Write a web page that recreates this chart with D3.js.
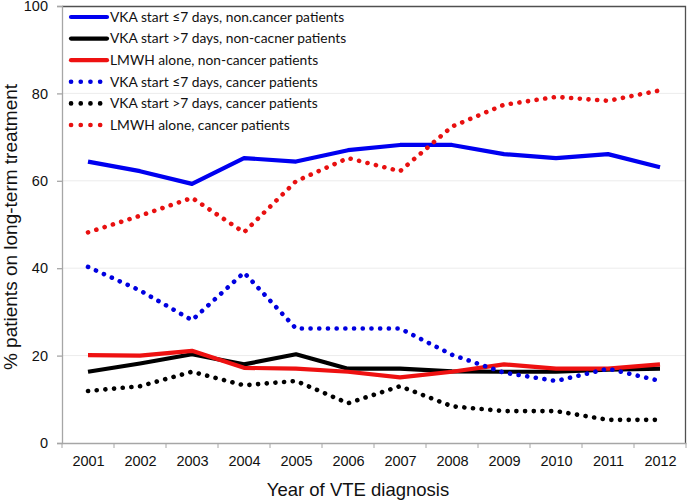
<!DOCTYPE html>
<html>
<head>
<meta charset="utf-8">
<script src="https://cdn.jsdelivr.net/npm/d3@7"></script>
<style>
  body { margin: 0; background: #fff; }
  svg { display: block; }
</style>
</head>
<body>
<div id="chart"></div>
<script>
// data
years = ['2001','2002','2003','2004','2005','2006','2007','2008','2009','2010','2011','2012']

vkaEarlyNonCancer = [64.4, 62.2, 59.3, 65.2, 64.4, 67, 68.2, 68.2, 66.1, 65.2, 66.1, 63.1]
vkaLateNonCancer  = [16.3, 18.2, 20.3, 18, 20.3, 17, 17, 16.4, 16.3, 16.3, 16.8, 17]
lmwhNonCancer     = [20.1, 20, 21.1, 17.2, 17, 16.3, 15, 16.3, 18, 17, 17, 18]
vkaEarlyCancer    = [40.3, 34.9, 28.1, 39, 26.2, 26.2, 26.2, 20.2, 16.1, 14.2, 17, 14.2]
vkaLateCancer     = [11.9, 13, 16.3, 13.2, 14.2, 9.1, 13, 8.4, 7.3, 7.3, 5.3, 5.3]
lmwhCancer        = [48.2, 52, 56.1, 48.2, 59.9, 65.2, 62.2, 72.4, 77.4, 79.2, 78.3, 80.7]

seriesNames = [
  'VKA start \u22647 days, non.cancer patients',
  'VKA start >7 days, non-cacner patients',
  'LMWH alone, non-cancer patients',
  'VKA start \u22647 days, cancer patients',
  'VKA start >7 days, cancer patients',
  'LMWH alone, cancer patients'
]
yTicks = [0, 20, 40, 60, 80, 100]

seriesList = [
  {name: seriesNames[0], values: vkaEarlyNonCancer, color: '#0000f0', dotted: false},
  {name: seriesNames[1], values: vkaLateNonCancer,  color: '#000000', dotted: false},
  {name: seriesNames[2], values: lmwhNonCancer,     color: '#ee1111', dotted: false},
  {name: seriesNames[3], values: vkaEarlyCancer,    color: '#0000e0', dotted: true},
  {name: seriesNames[4], values: vkaLateCancer,     color: '#000000', dotted: true},
  {name: seriesNames[5], values: lmwhCancer,        color: '#e81010', dotted: true}
]

svgWidth = 688
svgHeight = 501

margin = {top: 6, left: 62, right: 2, bottom: 58}
width = svgWidth - margin.left - margin.right
height = svgHeight - margin.top - margin.bottom

svg = d3.select('#chart')
        .append('svg')
        .attr('width', svgWidth)
        .attr('height', svgHeight)

chartGroup = svg.append('g')
                .attr('transform', `translate(${margin.left},${margin.top})`)

xScale = d3.scalePoint()
           .domain(years)
           .range([0, width])
           .padding(0.5)
yScale = d3.scaleLinear()
           .domain([0, 100])
           .range([height, 0])

// gridlines
chartGroup.selectAll('.grid')
          .data(yTicks.filter(d => d > 0 && d < 100))
          .enter()
          .append('line')
          .attr('x1', 0)
          .attr('x2', width)
          .attr('y1', d => yScale(d))
          .attr('y2', d => yScale(d))
          .attr('stroke', '#ececec')
          .attr('stroke-width', 1)

// top and right frame
chartGroup.append('path')
          .attr('d', `M0,0.5H${width - 0.5}V${height}`)
          .attr('fill', 'none')
          .attr('stroke', '#505050')
          .attr('stroke-width', 1.3)

leftAxis = d3.axisLeft(yScale)
             .tickValues(yTicks)
             .tickSize(5)
             .tickPadding(9)
chartGroup.append('g')
          .attr('class', 'y-axis')
          .call(leftAxis)

// category axis: ticks between the categories
step = xScale.step()
bottomAxis = d3.axisBottom(xScale)
               .tickSize(0)
               .tickPadding(13)
chartGroup.append('g')
          .attr('class', 'x-axis')
          .attr('transform', `translate(0,${height})`)
          .call(bottomAxis)
chartGroup.select('.x-axis').selectAll('.sep')
          .data(d3.range(years.length + 1))
          .enter()
          .append('line')
          .attr('x1', i => i * step)
          .attr('x2', i => i * step)
          .attr('y1', 0)
          .attr('y2', 5)
          .attr('stroke', '#a6a6a6')

svg.selectAll('.domain, .tick line').attr('stroke', '#a6a6a6').attr('stroke-width', 1.3)
svg.selectAll('.tick text')
   .attr('font-family', 'Liberation Sans, Arial, sans-serif')
   .attr('font-size', '14.5px')
   .attr('fill', '#111')

line = d3.line()
         .x((d, i) => xScale(years[i]))
         .y(d => yScale(d))

seriesList.forEach(function(s) {
  chartGroup.append('path')
            .datum(s.values)
            .attr('d', line)
            .attr('fill', 'none')
            .attr('stroke', s.color)
            .attr('stroke-width', s.dotted ? 4.6 : 4.2)
            .attr('stroke-linecap', s.dotted ? 'round' : 'butt')
            .attr('stroke-linejoin', 'round')
            .attr('stroke-dasharray', s.dotted ? '0.1 8.6' : null)
})

// legend
legend = chartGroup.append('g')
                   .attr('transform', 'translate(9,11)')
seriesList.forEach(function(s, i) {
  row = legend.append('g').attr('transform', `translate(0,${i * 21.6})`)
  row.append('line')
     .attr('x1', 0)
     .attr('x2', s.dotted ? 30 : 36)
     .attr('y1', 0)
     .attr('y2', 0)
     .attr('stroke', s.color)
     .attr('stroke-width', s.dotted ? 4.6 : 4.2)
     .attr('stroke-linecap', 'round')
     .attr('stroke-dasharray', s.dotted ? '0.1 9.6' : null)
  row.append('text')
     .attr('x', 39)
     .attr('y', 4.8)
     .attr('font-family', 'Lato, sans-serif')
     .attr('font-size', '13.8px')
     .attr('fill', '#111')
     .text(s.name)
})

svg.append('text')
   .attr('x', 358)
   .attr('y', 496)
   .attr('text-anchor', 'middle')
   .attr('font-family', 'Liberation Sans, Arial, sans-serif')
   .attr('font-size', '18.5px')
   .attr('fill', '#111')
   .text('Year of VTE diagnosis')

svg.append('text')
   .attr('transform', 'rotate(-90)')
   .attr('x', -227)
   .attr('y', 17)
   .attr('text-anchor', 'middle')
   .attr('font-family', 'Liberation Sans, Arial, sans-serif')
   .attr('font-size', '19px')
   .attr('fill', '#111')
   .text('% patients on long-term treatment')
</script>
</body>
</html>
